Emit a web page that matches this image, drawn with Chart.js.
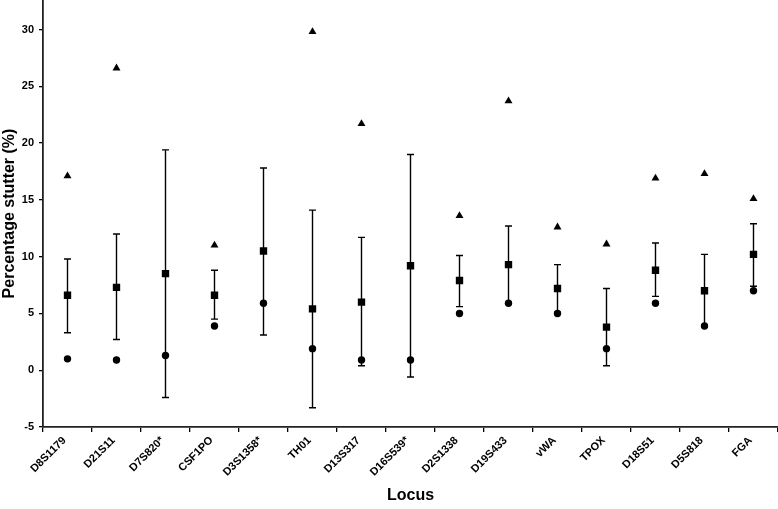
<!DOCTYPE html>
<html>
<head>
<meta charset="utf-8">
<script src="https://cdn.jsdelivr.net/npm/chart.js@4"></script>
<style>
  body { margin: 0; background: #fff; }
</style>
</head>
<body>
<canvas id="stutterChart" width="778" height="509"></canvas>
<script>
// Loci and stutter values
var loci = ["D8S1179", "D21S11", "D7S820*", "CSF1PO", "D3S1358*", "TH01", "D13S317", "D16S539*",
            "D2S1338", "D19S433", "vWA", "TPOX", "D18S51", "D5S818", "FGA"];
var maxStutter  = [17.1, 26.6, null, 11.0, null, 29.8, 21.7, null, 13.6, 23.7, 12.6, 11.1, 16.9, 17.3, 15.1];
var meanStutter = [6.6, 7.3, 8.5, 6.6, 10.5, 5.4, 6.0, 9.2, 7.9, 9.3, 7.2, 3.8, 8.8, 7.0, 10.2];
var minStutter  = [1.0, 0.9, 1.3, 3.9, 5.9, 1.9, 0.9, 0.9, 5.0, 5.9, 5.0, 1.9, 5.9, 3.9, 7.0];
var barUpper    = [9.8, 12.0, 19.4, 8.8, 17.8, 14.1, 11.7, 19.0, 10.1, 12.7, 9.3, 7.2, 11.2, 10.2, 12.9];
var barLower    = [3.3, 2.7, -2.4, 4.5, 3.1, -3.3, 0.4, -0.6, 5.6, 5.8, 5.1, 0.4, 6.5, 3.8, 7.4];
var yTicks = { min: -5, max: 32.6, step: 5 };

var fontFamily = "'Liberation Sans', Arial, sans-serif";

// error bars drawn behind the markers
var errorBars = {
    id: "errorBars",
    beforeDatasetsDraw: function(chart) {
        var ctx = chart.ctx;
        var xs = chart.scales.x, ys = chart.scales.y;
        ctx.save();
        ctx.strokeStyle = "#000";
        ctx.lineWidth = 1.4;
        for (var i = 0; i < loci.length; i++) {
            var px = xs.getPixelForValue(i);
            var top = ys.getPixelForValue(barUpper[i]);
            var bot = ys.getPixelForValue(barLower[i]);
            ctx.beginPath();
            ctx.moveTo(px, top); ctx.lineTo(px, bot);
            ctx.moveTo(px - 3.5, top); ctx.lineTo(px + 3.5, top);
            ctx.moveTo(px - 3.5, bot); ctx.lineTo(px + 3.5, bot);
            ctx.stroke();
        }
        ctx.restore();
    }
};

function markerSet(label, data, style, radius) {
    return {
        label: label,
        data: data,
        showLine: false,
        pointStyle: style,
        pointRadius: radius,
        pointHoverRadius: radius,
        pointBackgroundColor: "#000",
        pointBorderColor: "#000",
        pointBorderWidth: 0,
        spanGaps: false
    };
}

var stutterChart = new Chart(document.getElementById("stutterChart"), {
    type: "line",
    data: {
        labels: loci,
        datasets: [
            markerSet("Maximum", maxStutter, "triangle", 4.6),
            markerSet("Mean", meanStutter, "rect", 5.2),
            markerSet("Minimum", minStutter, "circle", 3.7)
        ]
    },
    options: {
        responsive: false,
        animation: false,
        layout: { padding: 0, autoPadding: false },
        plugins: {
            legend: { display: false },
            tooltip: { enabled: false }
        },
        scales: {
            x: {
                offset: true,
                grid: { offset: true, drawOnChartArea: false, drawTicks: true, tickLength: 5, color: "#000", lineWidth: 1.3 },
                border: { display: true, color: "#222", width: 1.8 },
                ticks: {
                    autoSkip: false,
                    minRotation: 45,
                    maxRotation: 45,
                    padding: 2,
                    labelOffset: -3,
                    color: "#000",
                    font: { family: fontFamily, size: 11, weight: "bold" }
                },
                title: {
                    display: true,
                    text: "Locus",
                    color: "#000",
                    padding: { top: 0, bottom: 4 },
                    font: { family: fontFamily, size: 16, weight: "bold" }
                },
                afterFit: function(scale) {
                    scale.height = 82;
                    scale.paddingLeft = 0;
                    scale.paddingRight = 0;
                }
            },
            y: {
                min: yTicks.min,
                max: yTicks.max,
                grid: { drawOnChartArea: false, drawTicks: true, tickLength: 4, color: "#000", lineWidth: 1.3 },
                border: { display: true, color: "#222", width: 1.8 },
                ticks: {
                    stepSize: yTicks.step,
                    includeBounds: false,
                    padding: 5,
                    color: "#000",
                    font: { family: fontFamily, size: 11, weight: "bold" }
                },
                title: {
                    display: true,
                    text: "Percentage stutter (%)",
                    color: "#000",
                    padding: { top: 0, bottom: 0 },
                    font: { family: fontFamily, size: 16, weight: "bold" }
                },
                afterFit: function(scale) {
                    scale.width = 43;
                    scale.paddingTop = 0;
                    scale.paddingBottom = 0;
                }
            }
        }
    },
    plugins: [errorBars]
});
</script>
</body>
</html>
